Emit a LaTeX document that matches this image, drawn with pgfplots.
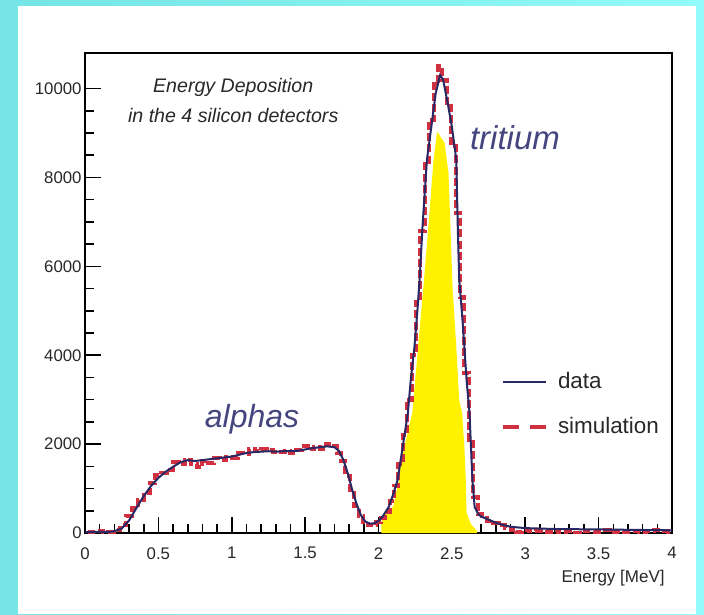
\documentclass[border=0pt]{standalone}
\usepackage{fontspec}
\setmainfont{Liberation Sans}
\usepackage{pgfplots}
\pgfplotsset{compat=1.18}

\definecolor{datacol}{RGB}{40,40,100}
\definecolor{simcol}{RGB}{208,48,64}
\definecolor{labcol}{RGB}{69,69,127}
\definecolor{txtcol}{RGB}{40,40,40}
\definecolor{bgleft}{RGB}{116,228,228}
\definecolor{bgright}{RGB}{146,250,250}

\newcommand{\tickfont}{\fontsize{8.4}{10}\selectfont}

\begin{document}
\begin{tikzpicture}
% page frame: cyan band with white panel
\useasboundingbox (-42.5pt,-40.5pt) rectangle (309.5pt,266.5pt);
\shade[left color=bgleft, right color=bgright] (-42.5pt,-40.5pt) rectangle (309.5pt,266.5pt);
\fill[white] (-33.5pt,-40.5pt) rectangle (305.5pt,263.5pt);

\begin{axis}[
  at={(0,0)}, anchor=south west,
  width=293.5pt, height=240pt, scale only axis,
  xmin=0, xmax=4, ymin=0, ymax=10800,
  xtick={0,0.5,...,4}, minor x tick num=4,
  ytick={0,2000,...,10000}, minor y tick num=3,
  scaled y ticks=false, scaled x ticks=false,
  tick align=inside, xtick pos=left, ytick pos=left,
  major tick length=8pt, minor tick length=4.5pt,
  axis line style={line width=1pt},
  every tick/.style={black, line width=0.8pt},
  /pgf/number format/.cd, 1000 sep={}, assume math mode=true, /pgfplots/.cd,
  xticklabel style={font=\tickfont, text=txtcol, inner sep=0pt, yshift=-7pt},
  yticklabel style={font=\tickfont, text=txtcol, inner sep=0pt, xshift=-1.5pt},
  xlabel={Energy [MeV]},
  x label style={at={(axis description cs:1,0)}, anchor=base east,
    inner sep=0pt, yshift=-24.5pt, xshift=-3.5pt, font=\fontsize{8.5}{10}\selectfont, text=txtcol},
  legend style={at={(rel axis cs:0.708,0.343)}, anchor=north west, draw=none, fill=none,
    font=\fontsize{11.2}{13}\selectfont, text=txtcol, row sep=8.5pt, column sep=3pt,
    inner sep=0pt, nodes={inner sep=2pt}},
  legend cell align=left,
  legend image code/.code={\draw[#1] (0pt,0pt) -- (21.5pt,0pt);},
]

% tritium peak highlighted in yellow
\addplot[fill=yellow, draw=none, forget plot] coordinates {
  (2.02,0) (2.02,225) (2.04,450) (2.10,590) (2.12,900) (2.14,1190)
  (2.13,1490) (2.16,1710) (2.23,2700) (2.27,4190) (2.31,5700) (2.34,6900)
  (2.375,8400) (2.40,9030) (2.45,8780) (2.477,8100) (2.49,6900) (2.505,5500)
  (2.53,4190) (2.55,3000) (2.57,2700) (2.585,1940) (2.595,1190) (2.60,450)
  (2.63,200) (2.67,50) (2.67,0)
} \closedcycle;

% simulation (dashed histogram)
\addplot[simcol, line width=2pt, dash pattern=on 4pt off 1.6pt, const plot mark mid, forget plot] coordinates {
  (0.02,30) (0.06,20) (0.10,40) (0.14,10) (0.18,30) (0.22,60) (0.26,180)
  (0.30,380) (0.34,560) (0.38,740) (0.42,900) (0.46,1130) (0.50,1300)
  (0.54,1340) (0.58,1420) (0.62,1600) (0.66,1560) (0.70,1640) (0.74,1560)
  (0.78,1480) (0.82,1620) (0.86,1570) (0.90,1680) (0.94,1640) (0.98,1700)
  (1.02,1690) (1.06,1800) (1.10,1770) (1.14,1880) (1.18,1850) (1.22,1900)
  (1.26,1860) (1.30,1830) (1.34,1820) (1.38,1840) (1.42,1790) (1.46,1860)
  (1.50,1960) (1.54,1880) (1.58,1940) (1.62,1900) (1.66,2010) (1.70,1960)
  (1.73,1800) (1.76,1620) (1.79,1280) (1.82,900) (1.85,600) (1.88,380)
  (1.91,250) (1.94,190) (1.97,180) (2.00,250) (2.03,340) (2.06,470)
  (2.09,720) (2.12,1050) (2.15,1560) (2.18,2200) (2.21,3000) (2.24,4000)
  (2.27,5200) (2.30,6800) (2.33,8300) (2.36,9300) (2.39,10100) (2.42,10500)
  (2.45,10200) (2.48,9600) (2.51,8700) (2.54,7200) (2.57,5300) (2.60,3600)
  (2.63,2100) (2.66,800) (2.69,420) (2.72,340) (2.76,280) (2.80,220)
  (2.84,180) (2.88,120) (2.92,60) (2.96,20) (3.00,60) (3.05,40) (3.10,50)
  (3.15,30) (3.20,60) (3.25,20) (3.30,40) (3.35,10) (3.40,50) (3.45,40)
  (3.50,30) (3.55,60) (3.60,20) (3.65,40) (3.70,30) (3.75,50) (3.80,20)
  (3.85,40) (3.90,60) (3.95,40) (4.00,30)
};

% measured data
\addplot[datacol, line width=1pt, forget plot] coordinates {
  (0.00,20) (0.05,20) (0.10,30) (0.15,20) (0.20,40) (0.25,100) (0.30,280)
  (0.35,560) (0.40,830) (0.45,1060) (0.50,1240) (0.55,1380) (0.60,1490)
  (0.65,1590) (0.70,1640) (0.75,1620) (0.80,1640) (0.85,1660) (0.90,1680)
  (0.95,1700) (1.00,1720) (1.05,1760) (1.10,1800) (1.15,1820) (1.20,1830)
  (1.25,1840) (1.30,1830) (1.35,1840) (1.40,1840) (1.45,1850) (1.50,1880)
  (1.55,1910) (1.60,1930) (1.65,1950) (1.70,1930) (1.73,1850) (1.76,1650)
  (1.79,1350) (1.82,980) (1.85,660) (1.88,400) (1.91,260) (1.94,210)
  (1.97,220) (2.00,270) (2.03,380) (2.07,590) (2.10,870) (2.13,1190)
  (2.165,1940) (2.20,2700) (2.22,3450) (2.245,4190) (2.265,5000) (2.28,5700)
  (2.30,6900) (2.33,8400) (2.36,9140) (2.39,9900) (2.42,10300) (2.44,10200)
  (2.47,9700) (2.50,9140) (2.53,8400) (2.54,6900) (2.55,5700) (2.57,4900)
  (2.585,4190) (2.60,3450) (2.62,2700) (2.63,1940) (2.64,1190) (2.655,590)
  (2.68,420) (2.70,370) (2.75,300) (2.80,230) (2.85,180) (2.90,140)
  (3.00,110) (3.20,90) (3.50,80) (4.00,60)
};

\addlegendimage{datacol, line width=1pt}
\addlegendentry{data}
\addlegendimage{simcol, line width=2pt, dash pattern=on 8pt off 5.5pt}
\addlegendentry{simulation}

\node[anchor=base, font=\fontsize{9.8}{11}\selectfont\itshape, text=txtcol]
  at (axis cs:1.01,9900) {Energy Deposition};
\node[anchor=base, font=\fontsize{9.8}{11}\selectfont\itshape, text=txtcol]
  at (axis cs:1.01,9225) {in the 4 silicon detectors};
\node[anchor=base, font=\fontsize{16}{18}\selectfont\itshape, text=labcol]
  at (axis cs:1.138,2385) {alphas};
\node[anchor=base, font=\fontsize{16.5}{18}\selectfont\itshape, text=labcol]
  at (axis cs:2.93,8618) {tritium};
\end{axis}
\end{tikzpicture}
\end{document}
